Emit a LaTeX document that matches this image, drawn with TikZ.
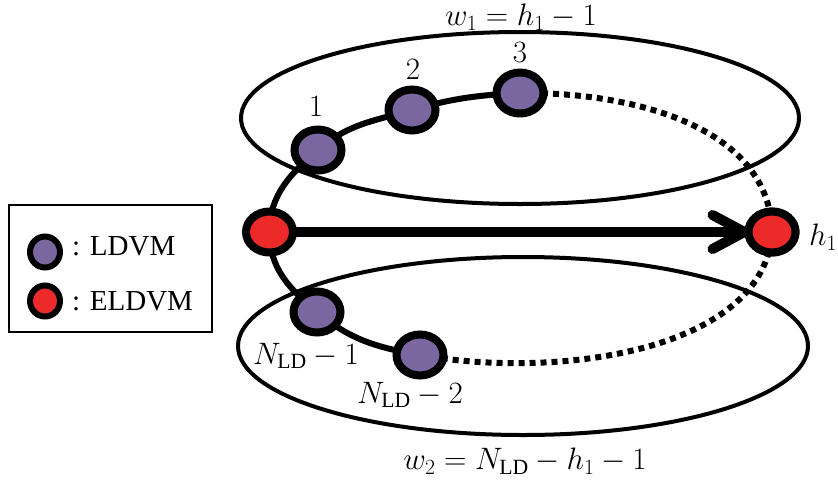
\RequirePackage{fix-cm}
\documentclass[tikz,border=0pt]{standalone}
\usepackage{fontspec}
\setmainfont{Liberation Serif}
\usetikzlibrary{shapes.geometric,backgrounds}
\definecolor{ldvm}{RGB}{123,103,160}
\definecolor{eldvm}{RGB}{236,42,42}
\begin{document}
\begin{tikzpicture}[x=1pt,y=-1pt,
 vm/.style={ellipse, draw, line width=8pt, minimum width=47pt, minimum height=41pt, inner sep=0pt},
 ld/.style={vm, fill=ldvm},
 el/.style={vm, fill=eldvm},
 lbl/.style={font=\fontsize{31}{36}\selectfont, inner sep=0pt},
 legtext/.style={font=\fontsize{29}{34}\selectfont, inner sep=0pt, anchor=base west},
 ring/.style={ellipse, draw, line width=4pt, inner sep=0pt},
 chain/.style={line width=6pt},
 dots/.style={line width=6pt, dash pattern=on 6pt off 5pt},
 leg/.style={ellipse, draw, line width=6pt, minimum width=30pt, minimum height=31pt, inner sep=0pt}]
\useasboundingbox (0,0) rectangle (838,485);
% rings
\node[ring, minimum width=558pt, minimum height=172pt] (top) at (520,118) {};
\node[ring, minimum width=570pt, minimum height=178pt] (bot) at (523,346) {};
% VMs
\node[el] (L) at (269.5,232) {};
\node[el] (R) at (772,232) {};
\node[ld] (n1) at (318,150) {};
\node[ld] (n2) at (412,110) {};
\node[ld] (n3) at (520,93) {};
\node[ld] (m1) at (317,312) {};
\node[ld] (m2) at (420,355) {};
% labels
\node[lbl] (t1) at (316,107) {$1$};
\node[lbl] (t2) at (413,70) {$2$};
\node[lbl] (t3) at (520,53) {$3$};
\node[lbl] (tm1) at (306,356) {$N_{\mathrm{LD}}-1$};
\node[lbl] (tm2) at (410,395) {$N_{\mathrm{LD}}-2$};
\node[lbl, anchor=west] (th) at (809,237) {$h_1$};
\node[lbl] (w1) at (521,17) {$w_1=h_1-1$};
\node[lbl] (w2) at (525,461) {$w_2=N_{\mathrm{LD}}-h_1-1$};
% legend
\node[draw, line width=2pt, minimum width=203pt, minimum height=127pt, inner sep=0pt] (legend) at (110.5,268.5) {};
\node[leg, fill=ldvm] (lp) at (45,252) {};
\node[leg, fill=eldvm] (lr) at (45,301) {};
\node[legtext] (lpt) at (72,255) {: LDVM};
\node[legtext] (lrt) at (72,310) {: ELDVM};
% connectors behind
\begin{pgfonlayer}{background}
\draw[chain] (n3.center) to[out=183,in=16] (n2.center)
  to[out=196,in=41] (n1.center)
  to[out=221,in=90] (L.center)
  to[out=270,in=140] (m1.center)
  to[out=320,in=170] (m2.center);
\draw[dots] (n3.center) .. controls (640,92) and (770,130) .. (R.center);
\draw[dots] (m2.center) .. controls (560,380) and (765,350) .. (R.center);
\draw[line width=10pt] (L.center) -- (R.west);
\end{pgfonlayer}
\draw[line width=10pt, line cap=round, line join=round]
  ([shift={(-32pt,17pt)}]R.west) -- (R.west) -- ([shift={(-32pt,-17pt)}]R.west);
\node[el] (R2) at (R) {};
\end{tikzpicture}
\end{document}
